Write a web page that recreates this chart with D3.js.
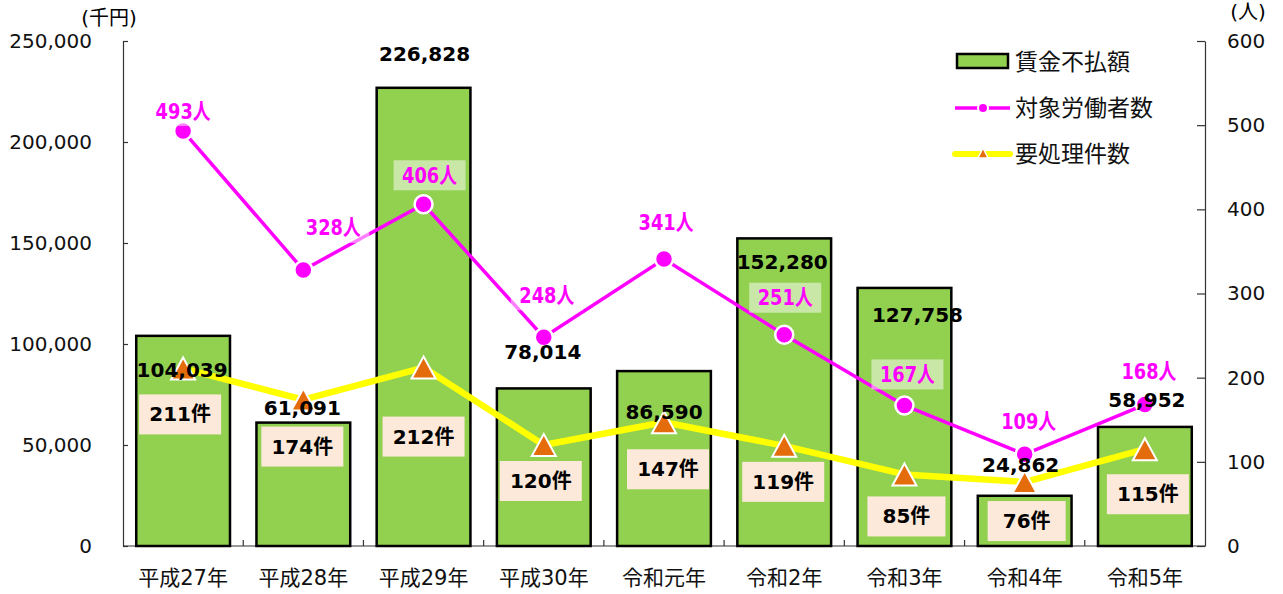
<!DOCTYPE html>
<html>
<head>
<meta charset="utf-8">
<script src="https://cdn.jsdelivr.net/npm/d3@7"></script>
<style>
  body { margin: 0; background: #fff; }
  svg text { font-family: "DejaVu Sans", "Noto Sans CJK JP", sans-serif; }
</style>
</head>
<body>
<div id="chart"></div>
<script>
// data
const categories = ["平成27年", "平成28年", "平成29年", "平成30年", "令和元年", "令和2年", "令和3年", "令和4年", "令和5年"];
const wages = [104039, 61091, 226828, 78014, 86590, 152280, 127758, 24862, 58952];   // 千円
const workers = [493, 328, 406, 248, 341, 251, 167, 109, 168];                       // 人
const cases = [211, 174, 212, 120, 147, 119, 85, 76, 115];                          // 件
const leftTicks = [0, 50000, 100000, 150000, 200000, 250000];
const rightTicks = [0, 100, 200, 300, 400, 500, 600];
const seriesNames = ["賃金不払額", "対象労働者数", "要処理件数"];

// label nudges (placement only), [dx, dy] from the mark
const wageLabelOff = [[-1, 34], [-1, -15], [1, -34], [-1, -36], [0, 41], [-2, 24], [13, 27], [-4, -31], [2, -27]];
const workerLabelOff = [[0, -20], [30, -42], [6, -29], [3, -42], [2, -36], [1, -37], [3, -31], [4, -33], [4, -33]];
const caseLabelOff = [[-3, 46], [-1, 47], [0, 69], [-3, 36], [4, 47], [-1, 36], [2, 42], [2, 39], [3, 45]];

const W = 1283, H = 594;
const plot = { left: 123, right: 1205, top: 41, bottom: 546 };

const svg = d3.select("#chart").append("svg")
  .attr("width", W).attr("height", H);

const x = d3.scaleBand().domain(categories)
  .range([plot.left, plot.right])
  .paddingInner(0.22).paddingOuter(0.11);
const yL = d3.scaleLinear().domain([0, 250000]).range([plot.bottom, plot.top]);
const yR = d3.scaleLinear().domain([0, 600]).range([plot.bottom, plot.top]);
const cx = i => x(categories[i]) + x.bandwidth() / 2;

// axes
const leftAxis = svg.append("g")
  .attr("transform", `translate(${plot.left},0)`)
  .call(d3.axisLeft(yL).tickValues(leftTicks).tickFormat(d3.format(","))
    .tickSizeInner(-5).tickSizeOuter(0).tickPadding(31));
const rightAxis = svg.append("g")
  .attr("transform", `translate(${plot.right},0)`)
  .call(d3.axisRight(yR).tickValues(rightTicks)
    .tickSizeInner(-8).tickSizeOuter(0).tickPadding(22));
[leftAxis, rightAxis].forEach(g => {
  g.select(".domain").attr("stroke", "#333").attr("stroke-width", 1.2);
  g.selectAll(".tick line").attr("stroke", "#333").attr("stroke-width", 1.2);
  g.selectAll(".tick text").attr("fill", "#111").style("font-size", "20px");
});

// bottom axis line + ticks between categories
svg.append("line")
  .attr("x1", plot.left).attr("x2", plot.right)
  .attr("y1", plot.bottom).attr("y2", plot.bottom)
  .attr("stroke", "#333").attr("stroke-width", 1.2);
svg.selectAll(".xtick")
  .data(d3.range(1, categories.length))
  .enter().append("line")
  .attr("x1", i => plot.left + i * x.step())
  .attr("x2", i => plot.left + i * x.step())
  .attr("y1", plot.bottom).attr("y2", plot.bottom - 6)
  .attr("stroke", "#333").attr("stroke-width", 1.2);
svg.selectAll(".xlabel")
  .data(categories)
  .enter().append("text")
  .attr("x", d => x(d) + x.bandwidth() / 2)
  .attr("y", 578)
  .attr("text-anchor", "middle")
  .attr("dominant-baseline", "central")
  .style("font-size", "21px")
  .attr("fill", "#111")
  .text(d => d);

// unit labels
svg.append("text").attr("x", 109).attr("y", 18)
  .attr("text-anchor", "middle").attr("dominant-baseline", "central")
  .style("font-size", "20px").text("(千円)");
svg.append("text").attr("x", 1248).attr("y", 12)
  .attr("text-anchor", "middle").attr("dominant-baseline", "central")
  .style("font-size", "20px").text("(人)");

// bars
svg.selectAll(".bar")
  .data(wages)
  .enter().append("rect")
  .attr("x", (d, i) => x(categories[i]))
  .attr("y", d => yL(d))
  .attr("width", x.bandwidth())
  .attr("height", d => plot.bottom - yL(d))
  .attr("fill", "#92d050")
  .attr("stroke", "#000")
  .attr("stroke-width", 2.5);

// case labels (boxes)
const caseLab = svg.selectAll(".caseLab")
  .data(cases)
  .enter().append("g")
  .attr("transform", (d, i) => `translate(${cx(i) + caseLabelOff[i][0]},${yR(d) + caseLabelOff[i][1]})`);
caseLab.append("rect")
  .attr("x", d => d >= 100 ? -41 : -39)
  .attr("y", -20)
  .attr("width", d => d >= 100 ? 82 : 78)
  .attr("height", 40)
  .attr("fill", "#fde9d9");
caseLab.append("text")
  .attr("text-anchor", "middle")
  .attr("dominant-baseline", "central")
  .style("font-size", "20px").style("font-weight", "bold")
  .attr("fill", "#000")
  .text(d => d + "件");

// yellow line + triangles
const tri = (hw, hh) => `M0,${-hh}L${hw},${hh}L${-hw},${hh}Z`;
svg.append("path")
  .datum(cases)
  .attr("d", d3.line().x((d, i) => cx(i)).y(d => yR(d)))
  .attr("fill", "none")
  .attr("stroke", "#ffff00")
  .attr("stroke-width", 6.5)
  .attr("stroke-linejoin", "round");
svg.selectAll(".tri")
  .data(cases)
  .enter().append("path")
  .attr("d", tri(12, 11))
  .attr("transform", (d, i) => `translate(${cx(i)},${yR(d)})`)
  .attr("fill", "#e46c0a")
  .attr("stroke", "#fff")
  .attr("stroke-width", 2)
  .attr("stroke-linejoin", "miter");

// magenta line + circles
svg.append("path")
  .datum(workers)
  .attr("d", d3.line().x((d, i) => cx(i)).y(d => yR(d)))
  .attr("fill", "none")
  .attr("stroke", "#ff00ff")
  .attr("stroke-width", 3.5);
svg.selectAll(".dot")
  .data(workers)
  .enter().append("circle")
  .attr("cx", (d, i) => cx(i))
  .attr("cy", d => yR(d))
  .attr("r", 9)
  .attr("fill", "#ff00ff")
  .attr("stroke", "#fff")
  .attr("stroke-width", 2.5);

// worker labels
const workLab = svg.selectAll(".workLab")
  .data(workers)
  .enter().append("g")
  .attr("transform", (d, i) => `translate(${cx(i) + workerLabelOff[i][0]},${yR(d) + workerLabelOff[i][1]})`);
workLab.append("rect")
  .attr("x", -36).attr("y", -15)
  .attr("width", 72).attr("height", 30)
  .attr("fill", "#fff").attr("fill-opacity", 0.5);
workLab.append("text")
  .attr("text-anchor", "middle")
  .attr("dominant-baseline", "central")
  .attr("textLength", 55)
  .attr("lengthAdjust", "spacingAndGlyphs")
  .style("font-size", "22px").style("font-weight", "bold")
  .attr("fill", "#ff00ff")
  .text(d => d + "人");

// wage labels
svg.selectAll(".wageLab")
  .data(wages)
  .enter().append("text")
  .attr("x", (d, i) => cx(i) + wageLabelOff[i][0])
  .attr("y", (d, i) => yL(d) + wageLabelOff[i][1])
  .attr("text-anchor", "middle")
  .attr("dominant-baseline", "central")
  .style("font-size", "20px").style("font-weight", "bold")
  .attr("fill", "#000")
  .text(d => d3.format(",")(d));

// legend
const lg = svg.append("g").attr("transform", "translate(955,0)");
lg.append("rect").attr("x", 2).attr("y", 54).attr("width", 51).attr("height", 14)
  .attr("fill", "#92d050").attr("stroke", "#000").attr("stroke-width", 2.5);
lg.append("line").attr("x1", 0).attr("x2", 55).attr("y1", 108).attr("y2", 108)
  .attr("stroke", "#ff00ff").attr("stroke-width", 3.5);
lg.append("circle").attr("cx", 28).attr("cy", 108).attr("r", 5)
  .attr("fill", "#ff00ff").attr("stroke", "#fff").attr("stroke-width", 2);
lg.append("line").attr("x1", 0).attr("x2", 55).attr("y1", 154).attr("y2", 154)
  .attr("stroke", "#ffff00").attr("stroke-width", 6).attr("stroke-linecap", "round");
lg.append("path").attr("d", tri(5, 5)).attr("transform", "translate(28,153)")
  .attr("fill", "#e46c0a").attr("stroke", "#fff").attr("stroke-width", 1.5);
lg.selectAll(".lgText")
  .data(seriesNames)
  .enter().append("text")
  .attr("x", 60)
  .attr("y", (d, i) => [62, 108, 154][i])
  .attr("dominant-baseline", "central")
  .style("font-size", "23px")
  .attr("fill", "#111")
  .text(d => d);
</script>
</body>
</html>
